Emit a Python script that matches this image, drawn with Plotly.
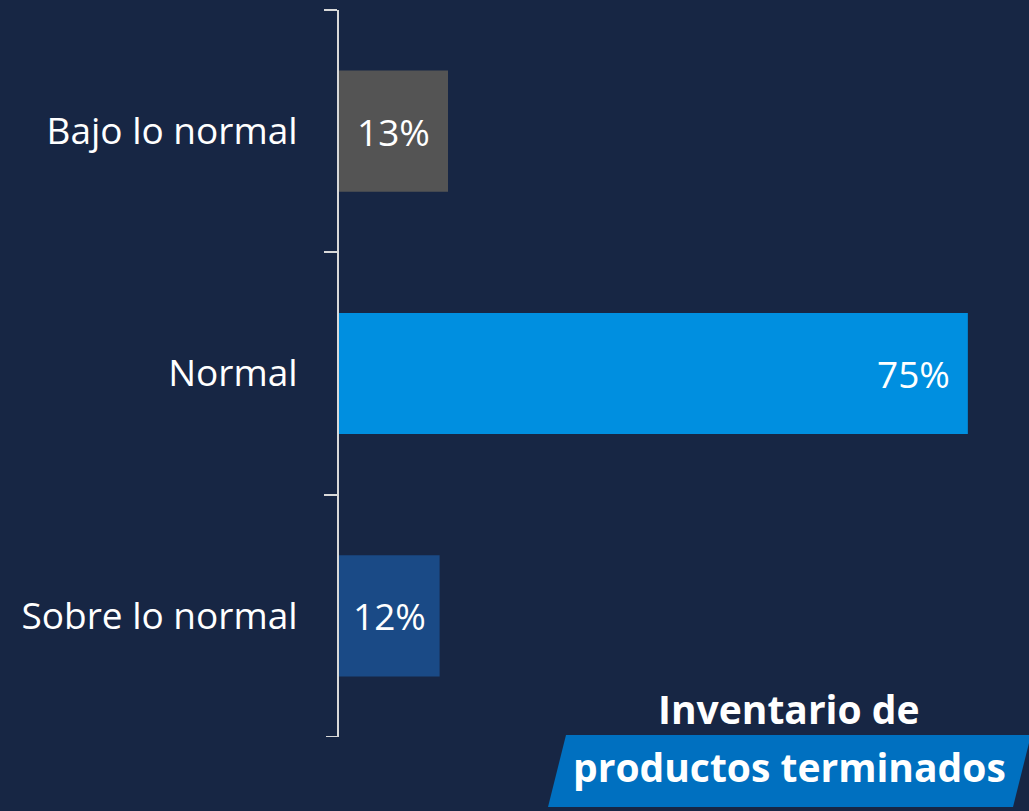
import plotly.graph_objects as go

categories = ["Bajo lo normal", "Normal", "Sobre lo normal"]
values = [13, 75, 12]
bar_colors = ["#545454", "#008FE0", "#1A4A86"]
title_line1 = "Inventario de"
title_line2 = "productos terminados"

W, H = 1029, 811
ML, MR, MT, MB = 339, 10, 10, 74
PW, PH = W - ML - MR, H - MT - MB
XMAX = 81.1
TICKLEN = 13

def px(X):
    return (X - ML) / PW

def py(Y):
    return (H - MB - Y) / PH

fig = go.Figure()
fig.add_trace(go.Bar(
    y=categories, x=values, orientation="h",
    marker=dict(color=bar_colors, line=dict(width=0)),
    width=0.5, textposition="none", hoverinfo="skip",
))

for c, v in zip(categories, values):
    if v > 30:
        fig.add_annotation(x=v, y=c, text=f"{v}%", showarrow=False,
                           xanchor="right", xshift=-16,
                           font=dict(family="Open Sans", size=37, color="white"))
    else:
        fig.add_annotation(x=v / 2, y=c, text=f"{v}%", showarrow=False,
                           xanchor="center",
                           font=dict(family="Open Sans", size=37, color="white"))

# closing tick at the lower category boundary
fig.add_shape(type="line", xref="paper", yref="y",
              x0=-TICKLEN / PW, x1=0, y0=len(categories) - 0.5, y1=len(categories) - 0.5,
              line=dict(color="#D9D9D9", width=2))

# parallelogram banner
path = (f"M {px(566)},{py(735)} L {px(1031)},{py(735)} "
        f"L {px(1013)},{py(807)} L {px(548)},{py(807)} Z")
fig.add_shape(type="path", path=path, xref="paper", yref="paper",
              fillcolor="#0070C0", line=dict(width=0), layer="below")

fig.add_annotation(x=px(789), y=py(708), xref="paper", yref="paper",
                   text=f"<b>{title_line1}</b>", showarrow=False,
                   xanchor="center", yanchor="middle",
                   font=dict(family="Open Sans", size=39, color="white"))
fig.add_annotation(x=px(789), y=py(766), xref="paper", yref="paper",
                   text=f"<b>{title_line2}</b>", showarrow=False,
                   xanchor="center", yanchor="middle",
                   font=dict(family="Open Sans", size=39, color="white"))

fig.update_layout(
    width=W, height=H,
    margin=dict(l=ML, r=MR, t=MT, b=MB),
    paper_bgcolor="#172644", plot_bgcolor="#172644",
    showlegend=False,
    xaxis=dict(range=[0, XMAX], visible=False, showgrid=False, zeroline=False),
    yaxis=dict(
        range=[2.5, -0.5], type="category",
        showline=True, linecolor="#D9D9D9", linewidth=2,
        ticks="outside", ticklen=TICKLEN, tickwidth=2, tickcolor="#D9D9D9",
        tickson="boundaries", showgrid=False, zeroline=False,
        tickfont=dict(family="Open Sans", size=37, color="white"),
        ticklabelstandoff=32,
    ),
)

fig.write_html("out.html", config={"displayModeBar": False},
               post_script="document.body.style.margin='0px';document.body.style.background='#172644';")
